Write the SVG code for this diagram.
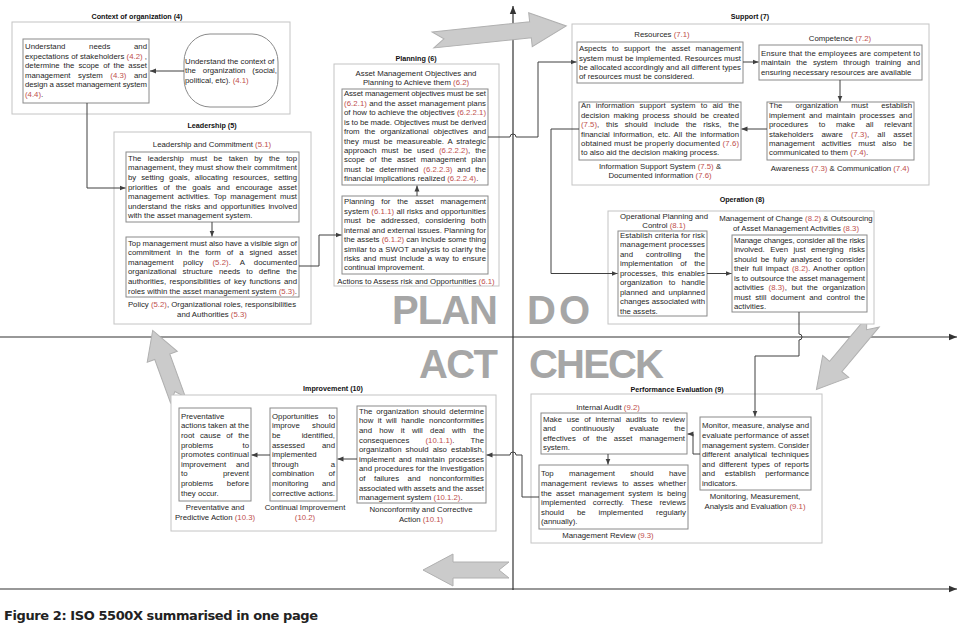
<svg xmlns="http://www.w3.org/2000/svg" width="960" height="626" viewBox="0 0 960 626">
<style>
.t{font-family:"Liberation Sans",Arial,sans-serif;font-size:7.8px;fill:#262626}
.c{text-anchor:middle}
.h{font-family:"Liberation Sans",Arial,sans-serif;font-size:7.2px;font-weight:bold;fill:#111;text-anchor:middle}
.r{fill:#c0504d}
.box{fill:#fff;stroke:#8a8a8a;stroke-width:1}
.outer{fill:#fff;stroke:#c4c4c4;stroke-width:1}
.cn{fill:none;stroke:#404040;stroke-width:1;marker-end:url(#ah)}
.ax{fill:none;stroke:#333;stroke-width:1.2;marker-end:url(#ax)}
.big{font-family:"Liberation Sans",Arial,sans-serif;font-size:40px;font-weight:bold;fill:#a6a6a6}
.blk{fill:#cbcbcb;stroke:#b0b0b0;stroke-width:1}
.cap{font-family:"DejaVu Sans",Verdana,sans-serif;font-size:13px;font-weight:bold;fill:#222}
</style>
<defs>
<marker id="ah" viewBox="0 0 6 6" refX="6" refY="3" markerWidth="6" markerHeight="6" markerUnits="userSpaceOnUse" orient="auto"><path d="M0,0.5 L6,3 L0,5.5 z" fill="#404040"/></marker>
<marker id="ax" viewBox="0 0 8 8" refX="8" refY="4" markerWidth="8" markerHeight="8" markerUnits="userSpaceOnUse" orient="auto"><path d="M0,0.8 L8,4 L0,7.2 z" fill="#333"/></marker>
</defs>
<rect width="960" height="626" fill="#fff"/>

<g id="axes">
<path class="ax" d="M513,590 V6"/>
<path class="ax" d="M0,337 H957"/>
<path class="ax" d="M0,589 H957"/>
</g>

<g id="cycle-arrows">
<path class="blk" transform="translate(433,40) rotate(-6)" d="M0,-8 L98,-8 L98,-17 L134,0 L98,17 L98,8 L0,8 L11,0 Z"/>
<path class="blk" transform="translate(873,322) rotate(130)" d="M0,-8 L58,-8 L58,-17 L88,0 L58,17 L58,8 L0,8 L10,0 Z"/>
<path class="blk" transform="translate(509,570) rotate(180)" d="M0,-8 L56,-8 L56,-16 L86,0 L56,16 L56,8 L0,8 L10,0 Z"/>
<path class="blk" transform="translate(178,400) rotate(-110)" d="M0,-8 L46,-8 L46,-16 L74,0 L46,16 L46,8 L0,8 L9,0 Z"/>
</g>

<g id="pdca">
<text class="big" x="392" y="324" textLength="106">PLAN</text>
<text class="big" x="527" y="324" textLength="63">DO</text>
<text class="big" x="419" y="378" textLength="79">ACT</text>
<text class="big" x="529" y="378" textLength="135">CHECK</text>
</g>

<g id="context">
<text class="h" x="137" y="18.5">Context of organization (4)</text>
<rect class="outer" x="12" y="22" width="278" height="92"/>
<g id="ctx-needs">
<rect class="box" x="23" y="39" width="126" height="64"/>
<text class="t" x="25" y="49" word-spacing="21.5" textLength="122">Understand needs and</text>
<text class="t" x="25" y="58.6" textLength="122">expectations of stakeholders <tspan class="r">(4.2)</tspan> ,</text>
<text class="t" x="25" y="68.2" word-spacing="1.8" textLength="122">determine the scope of the asset</text>
<text class="t" x="25" y="77.8" word-spacing="5.4" textLength="122">management system <tspan class="r">(4.3)</tspan> and</text>
<text class="t" x="25" y="87.4" textLength="122">design a asset management system</text>
<text class="t" x="25" y="97"><tspan class="r">(4.4)</tspan>.</text>
</g>
<g id="ctx-context">
<rect class="box" x="184" y="34" width="94" height="73" rx="26" ry="28"/>
<text class="t" x="185" y="63.7">Understand the context of</text>
<text class="t" x="185" y="73.4" word-spacing="4.8" textLength="92">the organization (social,</text>
<text class="t" x="185" y="82.7">political, etc). <tspan class="r">(4.1)</tspan></text>
</g>
</g>

<g id="leadership">
<text class="h" x="212" y="128">Leadership (5)</text>
<rect class="outer" x="114" y="132" width="197" height="192"/>
<text class="t c" x="212" y="147">Leadership and Commitment <tspan class="r">(5.1)</tspan></text>
<g id="lead-commitment">
<rect class="box" x="126" y="152" width="173" height="70"/>
<text class="t" x="128" y="160.7" word-spacing="4.3" textLength="169">The leadership must be taken by the top</text>
<text class="t" x="128" y="170.3" textLength="169">management, they must show their commitment</text>
<text class="t" x="128" y="179.9" word-spacing="2.8" textLength="169">by setting goals, allocating resources, setting</text>
<text class="t" x="128" y="189.5" word-spacing="3.7" textLength="169">priorities of the goals and encourage asset</text>
<text class="t" x="128" y="199.1" word-spacing="1.7" textLength="169">management activities. Top management must</text>
<text class="t" x="128" y="208.7" word-spacing="1.2" textLength="169">understand the risks and opportunities involved</text>
<text class="t" x="128" y="218.3">with the asset management system.</text>
</g>
<g id="lead-policy">
<rect class="box" x="126" y="237" width="173" height="60"/>
<text class="t" x="128" y="245.5" textLength="169">Top management must also have a visible sign of</text>
<text class="t" x="128" y="255.1" word-spacing="3.8" textLength="169">commitment in the form of a signed asset</text>
<text class="t" x="128" y="264.7" word-spacing="7.1" textLength="169">management policy <tspan class="r">(5.2)</tspan>. A documented</text>
<text class="t" x="128" y="274.3" word-spacing="3.9" textLength="169">organizational structure needs to define the</text>
<text class="t" x="128" y="283.9" word-spacing="1.2" textLength="169">authorities, responsibilities of key functions and</text>
<text class="t" x="128" y="293.5" textLength="169">roles within the asset management system <tspan class="r">(5.3)</tspan>.</text>
</g>
<text class="t c" x="212" y="307.1">Policy <tspan class="r">(5.2)</tspan>, Organizational roles, responsibilities</text>
<text class="t c" x="212" y="317.1">and Authorities <tspan class="r">(5.3)</tspan></text>
</g>

<g id="planning">
<text class="h" x="416" y="60.7">Planning (6)</text>
<rect class="outer" x="334" y="64" width="165" height="222"/>
<text class="t c" x="416" y="76">Asset Management Objectives and</text>
<text class="t c" x="416" y="85.4">Planning to Achieve them <tspan class="r">(6.2)</tspan></text>
<g id="plan-objectives">
<rect class="box" x="342" y="89" width="146" height="96"/>
<text class="t" x="344" y="96.3" textLength="142">Asset management objectives must be set</text>
<text class="t" x="344" y="105.75" textLength="142"><tspan class="r">(6.2.1)</tspan> and the asset management plans</text>
<text class="t" x="344" y="115.2" textLength="142">of how to achieve the objectives <tspan class="r">(6.2.2.1)</tspan></text>
<text class="t" x="344" y="124.65" textLength="142">is to be made. Objectives must be derived</text>
<text class="t" x="344" y="134.1" word-spacing="2.7" textLength="142">from the organizational objectives and</text>
<text class="t" x="344" y="143.55" word-spacing="1.8" textLength="142">they must be measureable. A strategic</text>
<text class="t" x="344" y="153" word-spacing="2.8" textLength="142">approach must be used <tspan class="r">(6.2.2.2)</tspan>, the</text>
<text class="t" x="344" y="162.45" word-spacing="2.8" textLength="142">scope of the asset management plan</text>
<text class="t" x="344" y="171.9" word-spacing="2.7" textLength="142">must be determined <tspan class="r">(6.2.2.3)</tspan> and the</text>
<text class="t" x="344" y="181.35">financial implications realized <tspan class="r">(6.2.2.4)</tspan>.</text>
</g>
<g id="plan-risks">
<rect class="box" x="342" y="196" width="146" height="78"/>
<text class="t" x="344" y="204.3" word-spacing="4.7" textLength="142">Planning for the asset management</text>
<text class="t" x="344" y="213.75" textLength="142">system <tspan class="r">(6.1.1)</tspan> all risks and opportunities</text>
<text class="t" x="344" y="223.2" word-spacing="3.5" textLength="142">must be addressed, considering both</text>
<text class="t" x="344" y="232.65" textLength="142">internal and external issues. Planning for</text>
<text class="t" x="344" y="242.1" textLength="142">the assets <tspan class="r">(6.1.2)</tspan> can include some thing</text>
<text class="t" x="344" y="251.55" textLength="142">similar to a SWOT analysis to clarify the</text>
<text class="t" x="344" y="261" word-spacing="1.1" textLength="142">risks and must include a way to ensure</text>
<text class="t" x="344" y="270.45">continual improvement.</text>
</g>
<text class="t c" x="416" y="283.7">Actions to Assess risk and Opportunities <tspan class="r">(6.1)</tspan></text>
</g>

<g id="support">
<text class="h" x="750" y="18.7">Support (7)</text>
<rect class="outer" x="572" y="24" width="357" height="161"/>
<text class="t c" x="662" y="36.7">Resources <tspan class="r">(7.1)</tspan></text>
<g id="sup-resources">
<rect class="box" x="577" y="42" width="166" height="41"/>
<text class="t" x="579" y="51.1" word-spacing="3.2" textLength="162">Aspects to support the asset management</text>
<text class="t" x="579" y="60.5" textLength="162">system must be implemented. Resources must</text>
<text class="t" x="579" y="69.9" textLength="162">be allocated accordingly and all different types</text>
<text class="t" x="579" y="79.3">of resources must be considered.</text>
</g>
<text class="t c" x="840" y="40.7">Competence <tspan class="r">(7.2)</tspan></text>
<g id="sup-competence">
<rect class="box" x="759" y="45" width="163" height="35"/>
<text class="t" x="761" y="56" textLength="159">Ensure that the employees are competent to</text>
<text class="t" x="761" y="65.3" word-spacing="3.6" textLength="159">maintain the system through training and</text>
<text class="t" x="761" y="74.6">ensuring necessary resources are available</text>
</g>
<g id="sup-awareness">
<rect class="box" x="767" y="102" width="147" height="58"/>
<text class="t" x="769" y="108.4" word-spacing="11" textLength="143">The organization must establish</text>
<text class="t" x="769" y="117.8" word-spacing="1.8" textLength="143">implement and maintain processes and</text>
<text class="t" x="769" y="127.2" word-spacing="8.5" textLength="143">procedures to make all relevant</text>
<text class="t" x="769" y="136.6" word-spacing="6" textLength="143">stakeholders aware <tspan class="r">(7.3)</tspan>, all asset</text>
<text class="t" x="769" y="146" word-spacing="4.7" textLength="143">management activities must also be</text>
<text class="t" x="769" y="155.4">communicated to them <tspan class="r">(7.4)</tspan>.</text>
</g>
<text class="t c" x="840" y="170.5">Awareness <tspan class="r">(7.3)</tspan> &amp; Communication <tspan class="r">(7.4)</tspan></text>
<g id="sup-information">
<rect class="box" x="579" y="102" width="162" height="58"/>
<text class="t" x="581" y="108.4" word-spacing="3.1" textLength="158">An information support system to aid the</text>
<text class="t" x="581" y="117.8" word-spacing="1.7" textLength="158">decision making process should be created</text>
<text class="t" x="581" y="127.2" word-spacing="4.5" textLength="158"><tspan class="r">(7.5)</tspan>, this should include the risks, the</text>
<text class="t" x="581" y="136.6" word-spacing="1.4" textLength="158">financial information, etc. All the information</text>
<text class="t" x="581" y="146" textLength="158">obtained must be properly documented <tspan class="r">(7.6)</tspan></text>
<text class="t" x="581" y="155.4">to also aid the decision making process.</text>
</g>
<text class="t c" x="660" y="168.7">Information Support System <tspan class="r">(7.5)</tspan> &amp;</text>
<text class="t c" x="660" y="178">Documented information <tspan class="r">(7.6)</tspan></text>
</g>

<g id="operation">
<text class="h" x="742" y="201.7">Operation (8)</text>
<rect class="outer" x="608" y="211" width="266" height="113"/>
<text class="t c" x="664" y="218.7">Operational Planning and</text>
<text class="t c" x="664" y="227.9">Control <tspan class="r">(8.1)</tspan></text>
<g id="op-planning">
<rect class="box" x="618" y="231" width="89" height="85"/>
<text class="t" x="620" y="237.7" textLength="85">Establish criteria for risk</text>
<text class="t" x="620" y="247.2" textLength="85">management processes</text>
<text class="t" x="620" y="256.7" word-spacing="10.6" textLength="85">and controlling the</text>
<text class="t" x="620" y="266.2" word-spacing="5.2" textLength="85">implementation of the</text>
<text class="t" x="620" y="275.7" word-spacing="1.7" textLength="85">processes, this enables</text>
<text class="t" x="620" y="285.2" word-spacing="4.1" textLength="85">organization to handle</text>
<text class="t" x="620" y="294.7" word-spacing="1.7" textLength="85">planned and unplanned</text>
<text class="t" x="620" y="304.2" textLength="85">changes associated with</text>
<text class="t" x="620" y="313.7">the assets.</text>
</g>
<text class="t c" x="796" y="220.7">Management of Change <tspan class="r">(8.2)</tspan> &amp; Outsourcing</text>
<text class="t c" x="796" y="230.5">of Asset Management Activities <tspan class="r">(8.3)</tspan></text>
<g id="op-change">
<rect class="box" x="732" y="235" width="135" height="77"/>
<text class="t" x="734" y="242.7" textLength="131">Manage changes, consider all the risks</text>
<text class="t" x="734" y="252.2" word-spacing="3.3" textLength="131">involved. Even just emerging risks</text>
<text class="t" x="734" y="261.7" word-spacing="1.5" textLength="131">should be fully analysed to consider</text>
<text class="t" x="734" y="271.2" word-spacing="1.1" textLength="131">their full impact <tspan class="r">(8.2)</tspan>. Another option</text>
<text class="t" x="734" y="280.7" textLength="131">is to outsource the asset management</text>
<text class="t" x="734" y="290.2" word-spacing="2.5" textLength="131">activities <tspan class="r">(8.3)</tspan>, but the organization</text>
<text class="t" x="734" y="299.7" word-spacing="2.1" textLength="131">must still document and control the</text>
<text class="t" x="734" y="309.2">activities.</text>
</g>
</g>

<g id="performance">
<text class="h" x="677" y="391.7">Performance Evaluation (9)</text>
<rect class="outer" x="531" y="394" width="291" height="149"/>
<text class="t c" x="608" y="409.7">Internal Audit <tspan class="r">(9.2)</tspan></text>
<g id="perf-audit">
<rect class="box" x="541" y="413" width="146" height="41"/>
<text class="t" x="543" y="421.7" word-spacing="2.6" textLength="142">Make use of internal audits to review</text>
<text class="t" x="543" y="431.2" word-spacing="13.2" textLength="142">and continuously evaluate the</text>
<text class="t" x="543" y="440.7" word-spacing="4.7" textLength="142">effectives of the asset management</text>
<text class="t" x="543" y="450.2">system.</text>
</g>
<g id="perf-review">
<rect class="box" x="539" y="465" width="149" height="64"/>
<text class="t" x="541" y="476.3" word-spacing="13.2" textLength="145">Top management should have</text>
<text class="t" x="541" y="485.9" word-spacing="2.4" textLength="145">management reviews to asses whether</text>
<text class="t" x="541" y="495.5" word-spacing="1.9" textLength="145">the asset management system is being</text>
<text class="t" x="541" y="505.1" word-spacing="4.7" textLength="145">implemented correctly. These reviews</text>
<text class="t" x="541" y="514.7" word-spacing="10.8" textLength="145">should be implemented regularly</text>
<text class="t" x="541" y="524.3">(annually).</text>
</g>
<text class="t c" x="608" y="537.7">Management Review <tspan class="r">(9.3)</tspan></text>
<g id="perf-monitor">
<rect class="box" x="700" y="417" width="111" height="73"/>
<text class="t" x="702" y="428.3" textLength="107">Monitor, measure, analyse and</text>
<text class="t" x="702" y="437.9" textLength="107">evaluate performance of asset</text>
<text class="t" x="702" y="447.5" textLength="107">management system. Consider</text>
<text class="t" x="702" y="457.1" word-spacing="2" textLength="107">different analytical techniques</text>
<text class="t" x="702" y="466.7" word-spacing="1.9" textLength="107">and different types of reports</text>
<text class="t" x="702" y="476.3" word-spacing="7.5" textLength="107">and establish performance</text>
<text class="t" x="702" y="485.9">indicators.</text>
</g>
<text class="t c" x="755" y="498.7">Monitoring, Measurement,</text>
<text class="t c" x="755" y="508.7">Analysis and Evaluation <tspan class="r">(9.1)</tspan></text>
</g>

<g id="improvement">
<text class="h" x="333" y="390.7">Improvement (10)</text>
<rect class="outer" x="171" y="395" width="325" height="136"/>
<g id="imp-nonconformity">
<rect class="box" x="357" y="406" width="129" height="97"/>
<text class="t" x="359" y="413.7" word-spacing="1.6" textLength="125">The organization should determine</text>
<text class="t" x="359" y="423.3" word-spacing="2.3" textLength="125">how it will handle nonconformities</text>
<text class="t" x="359" y="432.9" word-spacing="5.1" textLength="125">and how it will deal with the</text>
<text class="t" x="359" y="442.5" word-spacing="14" textLength="125">consequences <tspan class="r">(10.1.1)</tspan>. The</text>
<text class="t" x="359" y="452.1" word-spacing="1.9" textLength="125">organization should also establish,</text>
<text class="t" x="359" y="461.7" word-spacing="1.5" textLength="125">implement and maintain processes</text>
<text class="t" x="359" y="471.3" textLength="125">and procedures for the investigation</text>
<text class="t" x="359" y="480.9" word-spacing="6.4" textLength="125">of failures and nonconformities</text>
<text class="t" x="359" y="490.5" textLength="125">associated with assets and the asset</text>
<text class="t" x="359" y="500.1">management system <tspan class="r">(10.1.2)</tspan>.</text>
</g>
<text class="t c" x="421" y="511.7">Nonconformity and Corrective</text>
<text class="t c" x="421" y="521.5">Action <tspan class="r">(10.1)</tspan></text>
<g id="imp-continual">
<rect class="box" x="270" y="408" width="67" height="93"/>
<text class="t" x="272" y="418.7" word-spacing="7.9" textLength="63">Opportunities to</text>
<text class="t" x="272" y="428.3" word-spacing="10.1" textLength="63">improve should</text>
<text class="t" x="272" y="437.9" word-spacing="18.8" textLength="63">be identified,</text>
<text class="t" x="272" y="447.5" word-spacing="14.9" textLength="63">assessed and</text>
<text class="t" x="272" y="457.1">implemented</text>
<text class="t" x="272" y="466.7" word-spacing="30" textLength="63">through a</text>
<text class="t" x="272" y="476.3" word-spacing="12.3" textLength="63">combination of</text>
<text class="t" x="272" y="485.9" word-spacing="11.4" textLength="63">monitoring and</text>
<text class="t" x="272" y="495.5" textLength="63">corrective actions.</text>
</g>
<text class="t c" x="305" y="509.7">Continual Improvement</text>
<text class="t c" x="305" y="519.5"><tspan class="r">(10.2)</tspan></text>
<g id="imp-preventative">
<rect class="box" x="179" y="408" width="72" height="93"/>
<text class="t" x="181" y="418.7">Preventative</text>
<text class="t" x="181" y="428.3" textLength="68">actions taken at the</text>
<text class="t" x="181" y="437.9" word-spacing="3.3" textLength="68">root cause of the</text>
<text class="t" x="181" y="447.5" word-spacing="27.3" textLength="68">problems to</text>
<text class="t" x="181" y="457.1" textLength="68">promotes continual</text>
<text class="t" x="181" y="466.7" word-spacing="7.7" textLength="68">improvement and</text>
<text class="t" x="181" y="476.3" word-spacing="33.3" textLength="68">to prevent</text>
<text class="t" x="181" y="485.9" word-spacing="11.6" textLength="68">problems before</text>
<text class="t" x="181" y="495.5">they occur.</text>
</g>
<text class="t c" x="215" y="509.7">Preventative and</text>
<text class="t c" x="215" y="519.5">Predictive Action <tspan class="r">(10.3)</tspan></text>
</g>

<g id="connectors">
<path class="cn" d="M184,71 H150"/>
<path class="cn" d="M87,103 V188 H125.5"/>
<path class="cn" d="M212,222 V236.5"/>
<path class="cn" d="M299,266 H319 V235 H341.5"/>
<path class="cn" d="M417,196 V185.5"/>
<path class="cn" d="M488,137 H510 A3,3 0 0 1 516,137 H538 V62 H576.5"/>
<path class="cn" d="M743,62 H758.5"/>
<path class="cn" d="M840,80 V101.5"/>
<path class="cn" d="M767,129 H741.5"/>
<path class="cn" d="M579,129 H551 V273.5 H617.5"/>
<path class="cn" d="M707,273.5 H731.5"/>
<path class="cn" d="M799,312 V334 A3,3 0 0 1 799,340 V356 H755 V416.5"/>
<path class="cn" d="M700,454 H693 V434 H687.5"/>
<path class="cn" d="M608,454 V464.5"/>
<path class="cn" d="M539,497 H522 V455 H516 A3,3 0 0 0 510,455 H486.5"/>
<path class="cn" d="M357,459 H337.5"/>
<path class="cn" d="M270,455 H251.5"/>
</g>

<text class="cap" x="4" y="620" textLength="314">Figure 2: ISO 5500X summarised in one page</text>
</svg>
